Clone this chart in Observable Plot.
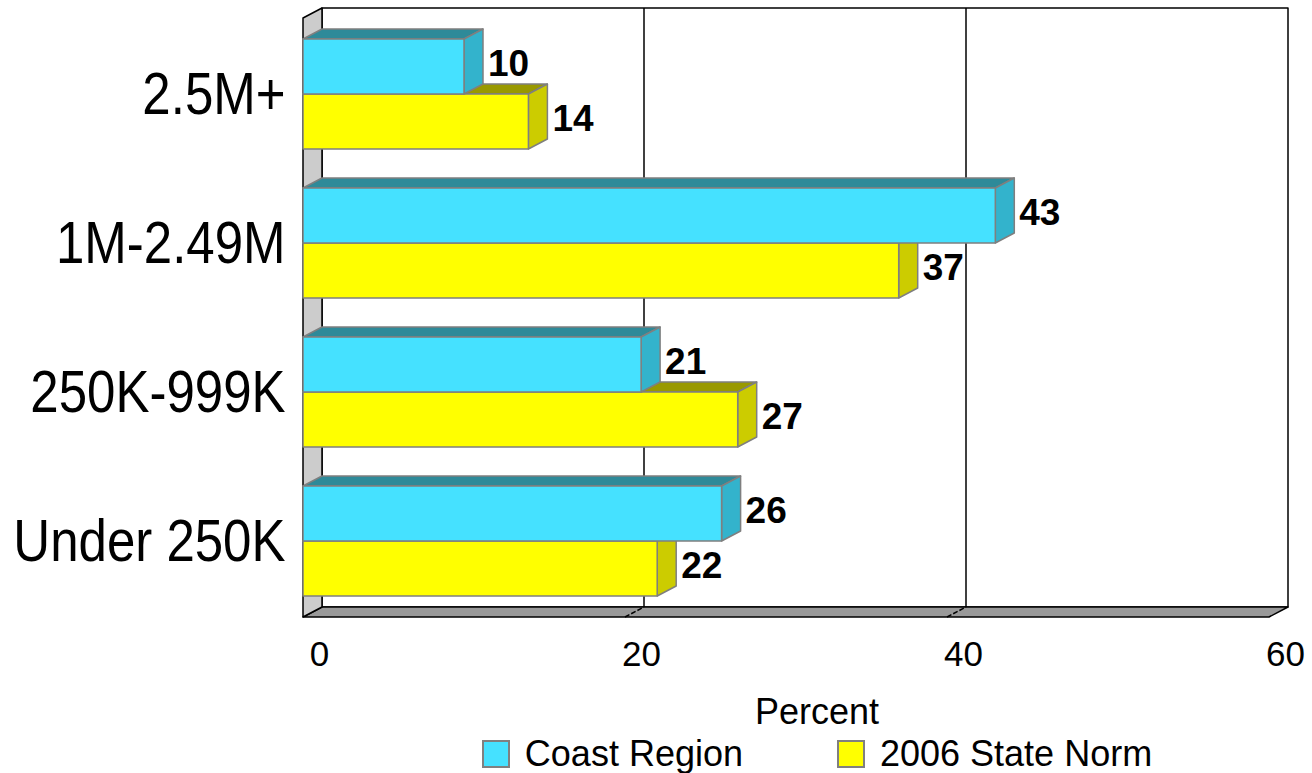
<!DOCTYPE html>
<html>
<head>
<meta charset="utf-8">
<script src="https://cdn.jsdelivr.net/npm/d3@7"></script>
<script src="https://cdn.jsdelivr.net/npm/@observablehq/plot@0.6"></script>
<style>
  body { margin: 0; background: #fff; font-family: "Liberation Sans", Arial, sans-serif; color: #000; }
  #chart svg { display: block; }
  .xlabel { padding-left: 322px; text-align: center; font-size: 36px; height: 44px; line-height: 44px; }
  .legend { padding-left: 322px; display: flex; justify-content: center; align-items: center; height: 39px; font-size: 36px; }
  .legend .item { display: flex; align-items: center; }
  .legend .item + .item { margin-left: 94px; }
  .legend .swatch { width: 24px; height: 24px; border: 2px solid #808080; margin-right: 15px; }
</style>
</head>
<body>
<div id="chart"></div>
<div class="xlabel">Percent</div>
<div class="legend" id="legend"></div>
<script>
// Farm sales classes and the share (percent) of farms in each
const categories = ["2.5M+", "1M-2.49M", "250K-999K", "Under 250K"];
const seriesNames = ["Coast Region", "2006 State Norm"];
const coastRegion = [10, 43, 21, 26];
const stateNorm = [14, 37, 27, 22];
const xTicks = [0, 20, 40, 60];

const seriesValues = [coastRegion, stateNorm];
const rows = categories.flatMap((category, c) =>
  seriesNames.map((series, s) => ({category, series, s, value: seriesValues[s][c]}))
);

// Shading for the front, side and top faces of each series' prisms
const faces = [
  {front: "#45e1ff", side: "#33b3cc", top: "#2e8a99"},
  {front: "#ffff00", side: "#cccc00", top: "#999900"}
];
const DX = 19, DY = -10; // depth of the 3D box in pixels

function polygon(g, pts, fill, stroke, width, dash) {
  const p = g.append("path")
    .attr("d", "M" + pts.map(p => p.join(",")).join("L") + "Z")
    .attr("fill", fill)
    .attr("stroke", stroke)
    .attr("stroke-width", width)
    .attr("stroke-linejoin", "round");
  if (dash) p.attr("stroke-dasharray", dash);
  return p;
}

// Back wall, grid, floor and left wall of the 3D box
function walls(index, scales, values, dims) {
  const g = d3.create("svg:g");
  const [d0, d1] = scales.x.domain();
  const x0 = scales.x(d0), x1 = scales.x(d1);
  const top = dims.marginTop, bottom = dims.height - dims.marginBottom;
  polygon(g, [[x0 + DX, top + DY], [x1 + DX, top + DY], [x1 + DX, bottom + DY], [x0 + DX, bottom + DY]], "#fff", "#000", 1.5);
  for (const t of xTicks) {
    if (t === d0 || t === d1) continue;
    const xt = scales.x(t);
    g.append("line").attr("x1", xt + DX).attr("x2", xt + DX)
      .attr("y1", top + DY).attr("y2", bottom + DY)
      .attr("stroke", "#000").attr("stroke-width", 1.5);
  }
  polygon(g, [[x0, bottom], [x1, bottom], [x1 + DX, bottom + DY], [x0 + DX, bottom + DY]], "#999", "#000", 1.5);
  for (const t of xTicks) {
    if (t === d0 || t === d1) continue;
    const xt = scales.x(t);
    g.append("line").attr("x1", xt).attr("x2", xt + DX)
      .attr("y1", bottom).attr("y2", bottom + DY)
      .attr("stroke", "#000").attr("stroke-width", 1.5).attr("stroke-dasharray", "5,2");
  }
  polygon(g, [[x0, top], [x0 + DX, top + DY], [x0 + DX, bottom + DY], [x0, bottom]], "#cccccc", "#000", 1.5);
  return g.node();
}

// Each category band holds two stacked prisms: Coast Region above, State Norm below
function prisms(index, scales, values) {
  const g = d3.create("svg:g");
  const bw = typeof scales.y.bandwidth === "function" ? scales.y.bandwidth() : scales.y.bandwidth;
  const half = bw / 2;
  const order = Array.from(index).sort((a, b) => rows[b].s - rows[a].s);
  const boxes = [];
  for (const i of order) {
    const s = rows[i].s;
    const xa = values.x1[i], xb = values.x2[i];
    const ya = values.y[i] + s * half, yb = ya + half;
    const f = faces[s];
    polygon(g, [[xa, ya], [xa + DX, ya + DY], [xb + DX, ya + DY], [xb, ya]], f.top, "#7f7f7f", 1.5);
    polygon(g, [[xb, ya], [xb + DX, ya + DY], [xb + DX, yb + DY], [xb, yb]], f.side, "#7f7f7f", 1.5);
    polygon(g, [[xa, ya], [xb, ya], [xb, yb], [xa, yb]], f.front, "#7f7f7f", 1.5);
    boxes.push({i, x: xb + DX + 5, y: (ya + yb) / 2 - 3});
  }
  for (const b of boxes) {
    g.append("text")
      .attr("x", b.x).attr("y", b.y)
      .attr("dy", "0.35em")
      .attr("text-anchor", "start")
      .attr("font-size", 37).attr("font-weight", "bold")
      .attr("font-family", "'Liberation Sans', Arial, sans-serif")
      .attr("fill", "#000")
      .text(rows[b.i].value);
  }
  return g.node();
}

// Narrow the category labels horizontally, keeping their right edge fixed
function condense(index, scales, values, dims, context, next) {
  const g = next(index, scales, values, dims, context);
  d3.select(g).selectAll("text").each(function () {
    const t = this.getAttribute("transform");
    if (t) {
      this.setAttribute("transform", t + " scale(0.85,1)");
    } else {
      const x = +this.getAttribute("x") || 0, y = +this.getAttribute("y") || 0;
      this.setAttribute("x", 0); this.setAttribute("y", 0);
      this.setAttribute("transform", `translate(${x},${y}) scale(0.85,1)`);
    }
  });
  return g;
}

const chart = Plot.plot({
  width: 1312,
  height: 690,
  marginTop: 18,
  marginBottom: 73,
  marginLeft: 303,
  marginRight: 43,
  style: {background: "#fff", fontFamily: "'Liberation Sans', Arial, sans-serif", color: "#000"},
  x: {domain: [0, 60]},
  y: {domain: categories, paddingInner: 0.26, paddingOuter: 0.13},
  marks: [
    walls,
    Plot.barX(rows, {x1: 0, x2: "value", y: "category", render: prisms}),
    Plot.axisX({ticks: xTicks, tickSize: 0, tickPadding: 24, dx: 16, fontSize: 35, label: null}),
    Plot.axisY({tickSize: 0, tickPadding: 18, fontSize: 60, label: null, render: condense})
  ]
});
document.getElementById("chart").appendChild(chart);

const legend = d3.select("#legend");
seriesNames.forEach((name, s) => {
  const item = legend.append("div").attr("class", "item");
  item.append("div").attr("class", "swatch").style("background", faces[s].front);
  item.append("span").text(name);
});
</script>
</body>
</html>
